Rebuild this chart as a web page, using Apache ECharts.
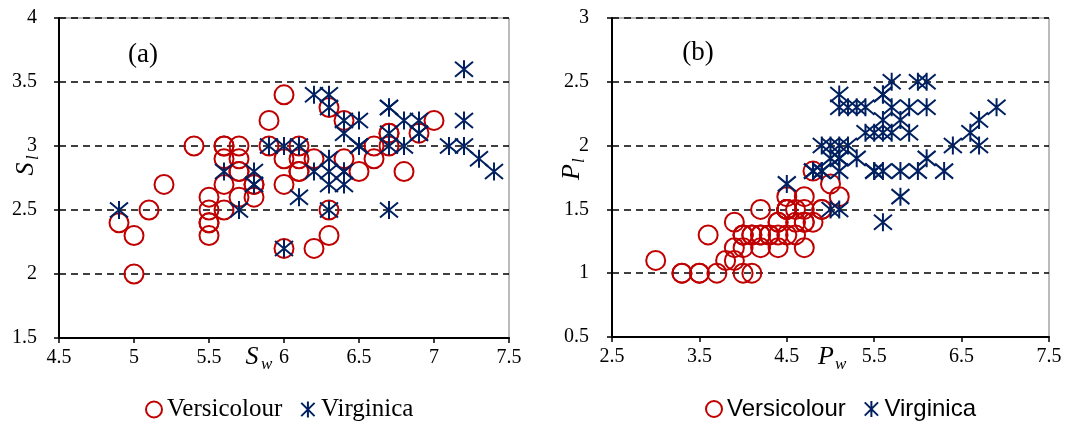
<!DOCTYPE html>
<html>
<head>
<meta charset="utf-8">
<script src="https://cdn.jsdelivr.net/npm/echarts@6/dist/echarts.min.js"></script>
<style>
  html, body { margin: 0; padding: 0; background: #fff; }
  #chart { width: 1071px; height: 425px; }
</style>
</head>
<body>
<div id="chart"></div>
<script>
// Versicolour and Virginica measurements (S = sepal, P = petal)
const versiSepalLen = [7.0,6.4,6.9,5.5,6.5,5.7,6.3,4.9,6.6,5.2,5.0,5.9,6.0,6.1,5.6,6.7,5.6,5.8,6.2,5.6,5.9,6.1,6.3,6.1,6.4,6.6,6.8,6.7,6.0,5.7,5.5,5.5,5.8,6.0,5.4,6.0,6.7,6.3,5.6,5.5,5.5,6.1,5.8,5.0,5.6,5.7,5.7,6.2,5.1,5.7];
const versiSepalWid = [3.2,3.2,3.1,2.3,2.8,2.8,3.3,2.4,2.9,2.7,2.0,3.0,2.2,2.9,2.9,3.1,3.0,2.7,2.2,2.5,3.2,2.8,2.5,2.8,2.9,3.0,2.8,3.0,2.9,2.6,2.4,2.4,2.7,2.7,3.0,3.4,3.1,2.3,3.0,2.5,2.6,3.0,2.6,2.3,2.7,3.0,2.9,2.9,2.5,2.8];
const versiPetalLen = [4.7,4.5,4.9,4.0,4.6,4.5,4.7,3.3,4.6,3.9,3.5,4.2,4.0,4.7,3.6,4.4,4.5,4.1,4.5,3.9,4.8,4.0,4.9,4.7,4.3,4.4,4.8,5.0,4.5,3.5,3.8,3.7,3.9,5.1,4.5,4.5,4.7,4.4,4.1,4.0,4.4,4.6,4.0,3.3,4.2,4.2,4.2,4.3,3.0,4.1];
const versiPetalWid = [1.4,1.5,1.5,1.3,1.5,1.3,1.6,1.0,1.3,1.4,1.0,1.5,1.0,1.4,1.3,1.4,1.5,1.0,1.5,1.1,1.8,1.3,1.5,1.2,1.3,1.4,1.4,1.7,1.5,1.0,1.1,1.0,1.2,1.6,1.5,1.6,1.5,1.3,1.3,1.3,1.2,1.4,1.2,1.0,1.3,1.2,1.3,1.3,1.1,1.3];

const virgSepalLen = [6.3,5.8,7.1,6.3,6.5,7.6,4.9,7.3,6.7,7.2,6.5,6.4,6.8,5.7,5.8,6.4,6.5,7.7,7.7,6.0,6.9,5.6,7.7,6.3,6.7,7.2,6.2,6.1,6.4,7.2,7.4,7.9,6.4,6.3,6.1,7.7,6.3,6.4,6.0,6.9,6.7,6.9,5.8,6.8,6.7,6.7,6.3,6.5,6.2,5.9];
const virgSepalWid = [3.3,2.7,3.0,2.9,3.0,3.0,2.5,2.9,2.5,3.6,3.2,2.7,3.0,2.5,2.8,3.2,3.0,3.8,2.6,2.2,3.2,2.8,2.8,2.7,3.3,3.2,2.8,3.0,2.8,3.0,2.8,3.8,2.8,2.8,2.6,3.0,3.4,3.1,3.0,3.1,3.1,3.1,2.7,3.2,3.3,3.0,2.5,3.0,3.4,3.0];
const virgPetalLen = [6.0,5.1,5.9,5.6,5.8,6.6,4.5,6.3,5.8,6.1,5.1,5.3,5.5,5.0,5.1,5.3,5.5,6.7,6.9,5.0,5.7,4.9,6.7,4.9,5.7,6.0,4.8,4.9,5.6,5.8,6.1,6.4,5.6,5.1,5.6,6.1,5.6,5.5,4.8,5.4,5.6,5.1,5.1,5.9,5.7,5.2,5.0,5.2,5.4,5.1];
const virgPetalWid = [2.5,1.9,2.1,1.8,2.2,2.1,1.7,1.8,1.8,2.5,2.0,1.9,2.1,2.0,2.4,2.3,1.8,2.2,2.3,1.5,2.3,2.0,2.0,1.8,2.1,1.8,1.8,1.8,2.1,1.6,1.9,2.0,2.2,1.5,1.4,2.3,2.4,1.8,1.8,2.1,2.4,2.3,1.9,2.3,2.5,2.3,1.9,2.0,2.3,1.8];

const seriesNames = ["Versicolour", "Virginica"];

const RED = "#C00000";
const NAVY = "#002060";
const SERIF = "'Liberation Serif', 'Times New Roman', serif";
const SANS = "'Liberation Sans', Arial, sans-serif";
const STAR = "path://M0,0L20,20M20,0L0,20M10,-2L10,22";

const zip = (xs, ys) => xs.map((x, i) => [x, ys[i]]);

function xAxisOf(gridIndex, min, max, interval) {
  return {
    type: "value", gridIndex, min, max, interval,
    splitLine: { show: false },
    axisLine: { onZero: false, lineStyle: { color: "#000", width: 2 } },
    axisTick: { length: 5, lineStyle: { color: "#000", width: 1.5 } },
    axisLabel: { color: "#000", fontFamily: SERIF, fontSize: 20, margin: 10 },
  };
}
function yAxisOf(gridIndex, min, max, margin) {
  return {
    type: "value", gridIndex, min, max, interval: 0.5,
    splitLine: { show: true, lineStyle: { color: "#000", width: 1.5, type: [7, 5] } },
    axisLine: { onZero: false, lineStyle: { color: "#000", width: 2 } },
    axisTick: { length: 5, lineStyle: { color: "#000", width: 1.5 } },
    axisLabel: { color: "#000", fontFamily: SERIF, fontSize: 20, margin },
  };
}
function scatter(name, idx, data) {
  const isV = name === "Virginica";
  return {
    name, type: "scatter", xAxisIndex: idx, yAxisIndex: idx, data,
    symbol: isV ? STAR : "circle",
    symbolSize: isV ? 18 : 19,
    itemStyle: { color: "rgba(0,0,0,0)", borderColor: isV ? NAVY : RED, borderWidth: 2, opacity: 1 },
    emphasis: { disabled: true },
    z: isV ? 3 : 2,
  };
}
function legendOf(left, family) {
  return {
    left, top: 392, itemGap: 18, itemWidth: 16, itemHeight: 16,
    textStyle: { fontFamily: family, fontSize: family === SERIF ? 25 : 24, color: "#000" },
    data: [
      { name: seriesNames[0], icon: "circle", itemStyle: { color: "rgba(0,0,0,0)", borderColor: RED, borderWidth: 2 } },
      { name: seriesNames[1], icon: STAR, itemStyle: { color: "rgba(0,0,0,0)", borderColor: NAVY, borderWidth: 2 } },
    ],
  };
}
function axisName(x, y, main, sub, rotate) {
  return {
    type: "group", x, y, rotation: rotate ? Math.PI / 2 : 0,
    children: [
      { type: "text", x: 0, y: 0, style: { text: main, font: "italic 26px " + SERIF, fill: "#000", align: "center", verticalAlign: "middle" } },
      { type: "text", x: 9, y: 8, style: { text: sub, font: "italic 17px " + SERIF, fill: "#000", align: "left", verticalAlign: "middle" } },
    ],
  };
}

const chart = echarts.init(document.getElementById("chart"));
chart.setOption({
  animation: false,
  backgroundColor: "#fff",
  grid: [
    { left: 59, top: 18, width: 450, height: 320, show: true, borderColor: "#777", borderWidth: 1 },
    { left: 612, top: 18, width: 437, height: 319, show: true, borderColor: "#777", borderWidth: 1 },
  ],
  xAxis: [xAxisOf(0, 4.5, 7.5, 0.5), xAxisOf(1, 2.5, 7.5, 1)],
  yAxis: [yAxisOf(0, 1.5, 4, 22), yAxisOf(1, 0.5, 3, 23)],
  legend: [legendOf(140, SERIF), legendOf(700, SANS)],
  series: [
    scatter(seriesNames[0], 0, zip(versiSepalLen, versiSepalWid)),
    scatter(seriesNames[1], 0, zip(virgSepalLen, virgSepalWid)),
    scatter(seriesNames[0], 1, zip(versiPetalLen, versiPetalWid)),
    scatter(seriesNames[1], 1, zip(virgPetalLen, virgPetalWid)),
  ],
  graphic: [
    { type: "text", x: 143, y: 55, style: { text: "(a)", font: "27px " + SERIF, fill: "#000", align: "center", verticalAlign: "middle" } },
    { type: "text", x: 698, y: 53, style: { text: "(b)", font: "27px " + SERIF, fill: "#000", align: "center", verticalAlign: "middle" } },
    axisName(252, 357, "S", "w", false),
    axisName(826, 357, "P", "w", false),
    axisName(26, 169, "S", "l", true),
    axisName(572, 172, "P", "l", true),
  ],
});
</script>
</body>
</html>
